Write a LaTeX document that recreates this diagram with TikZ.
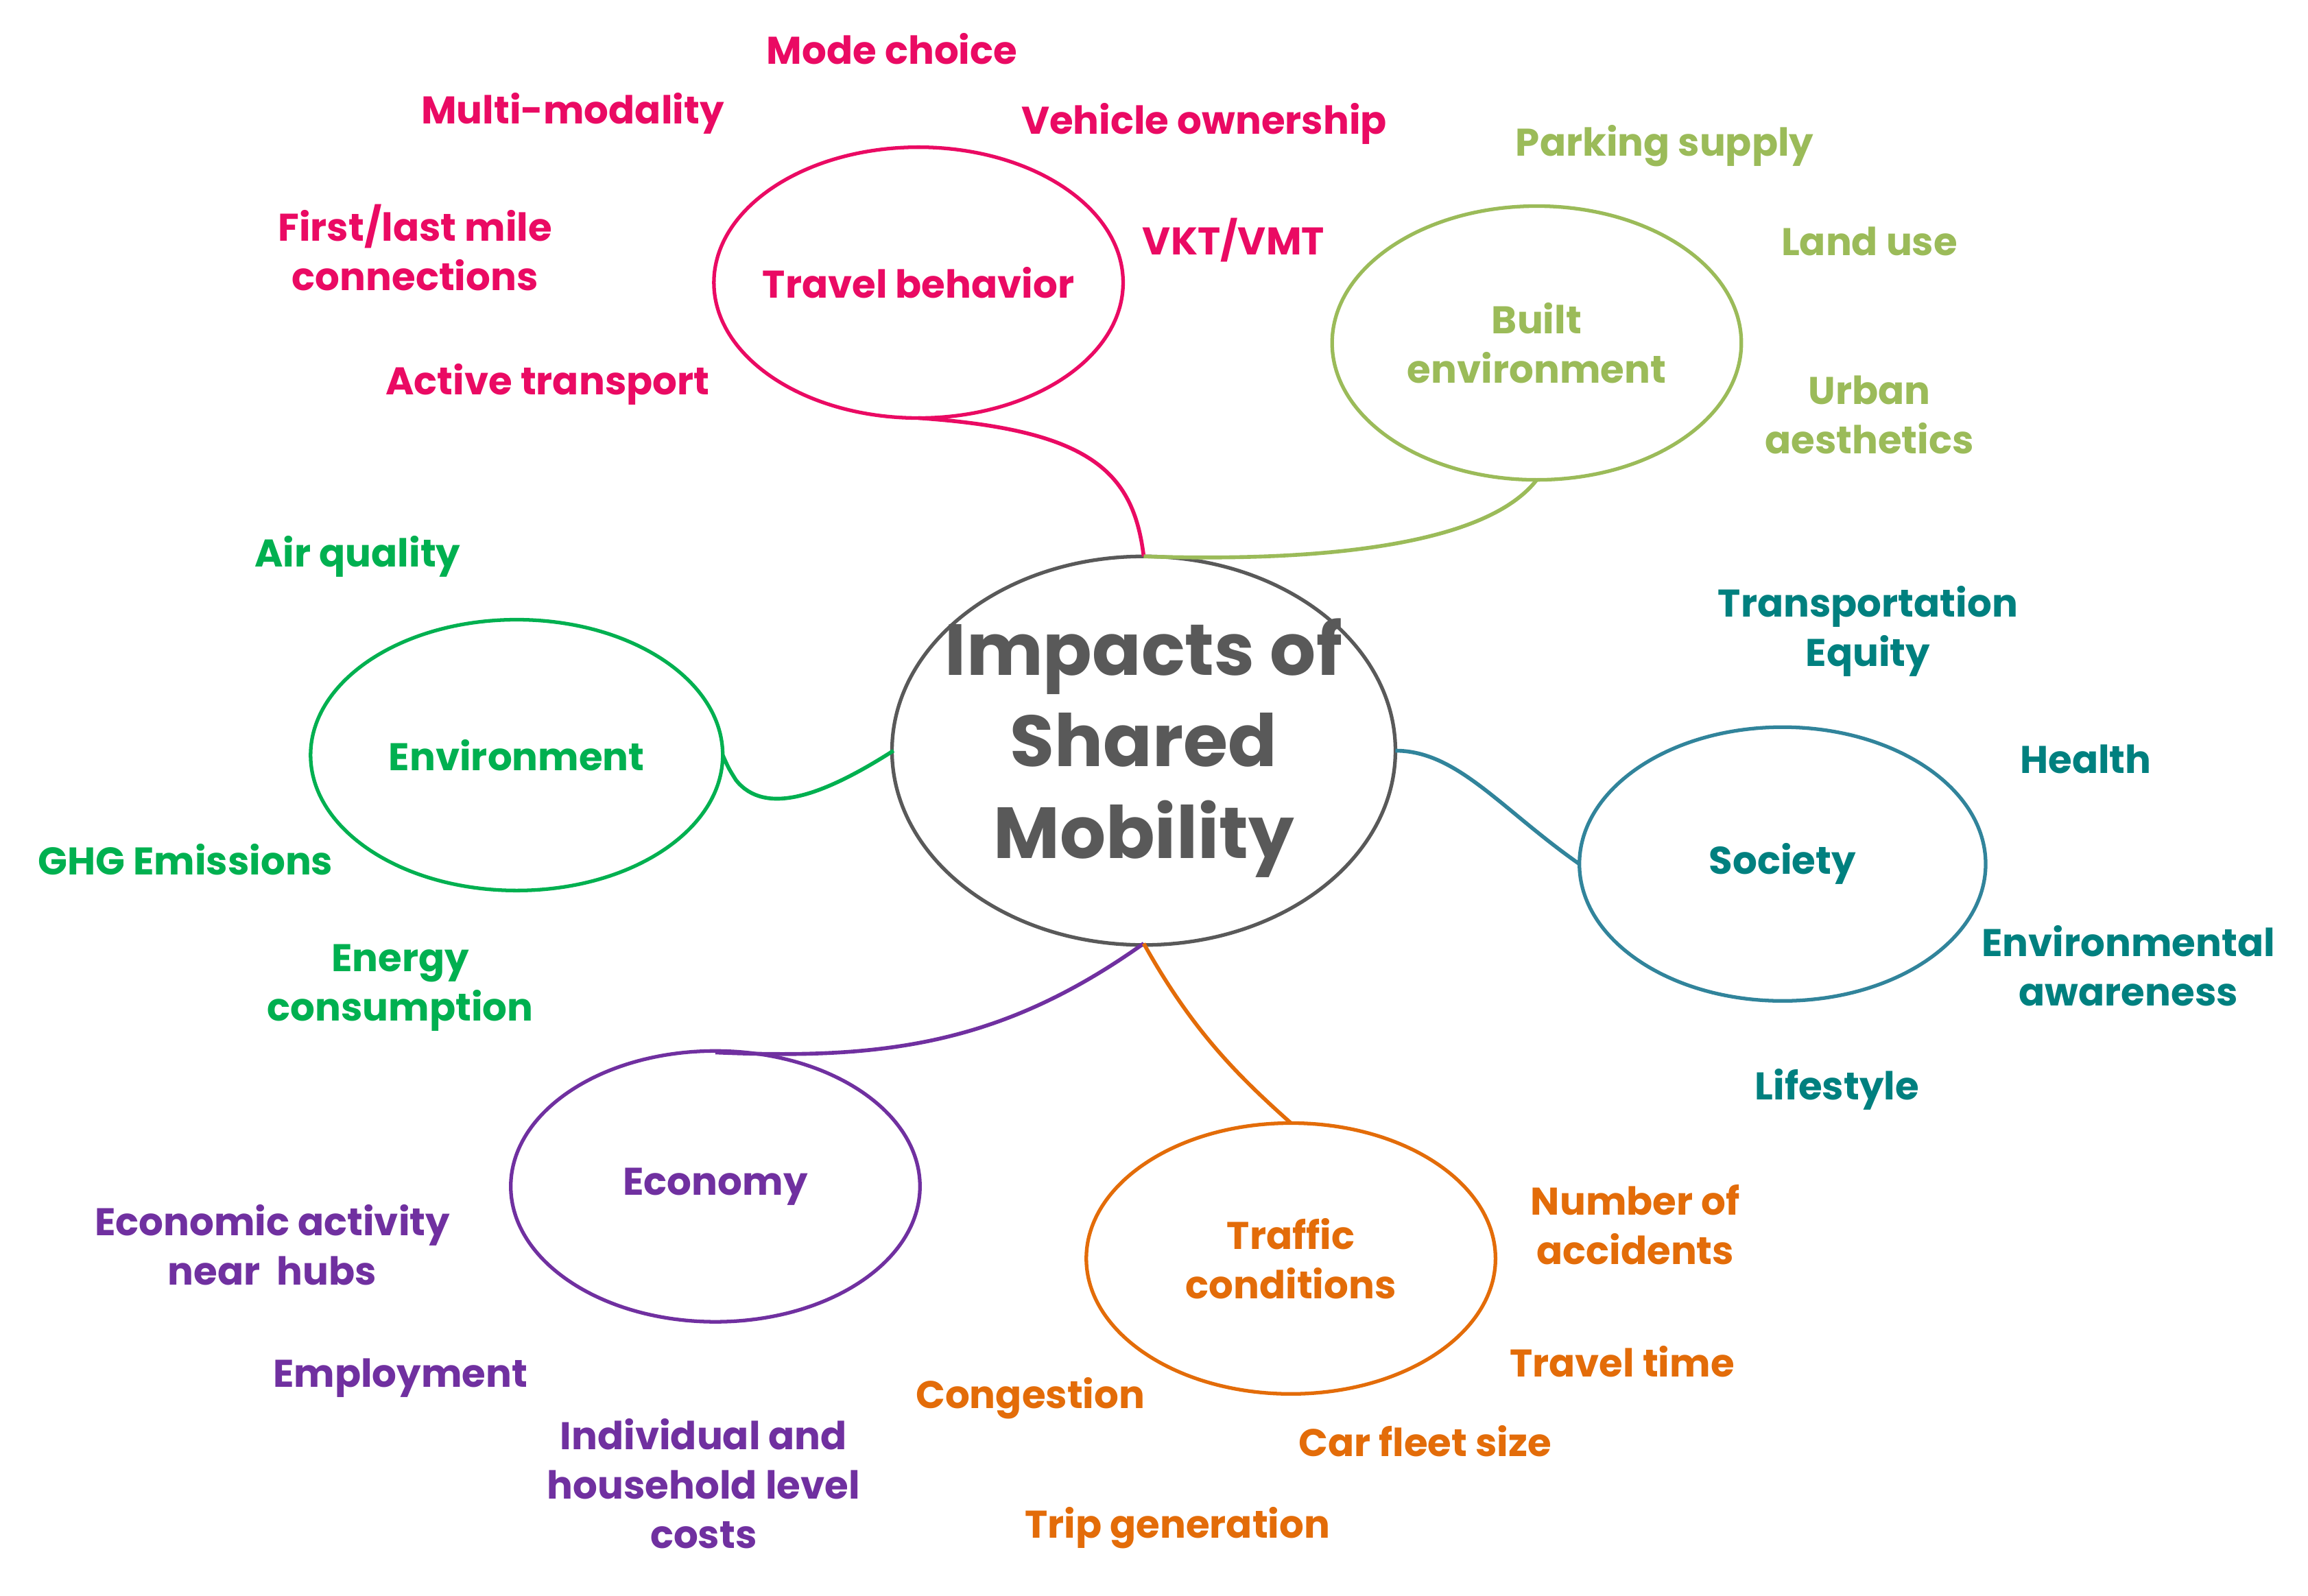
\documentclass[tikz,border=0pt]{standalone}
\usepackage{fontspec}
\setmainfont{Poppins}
\definecolor{cpink}{HTML}{EA0A63}
\definecolor{colive}{HTML}{9BBB59}
\definecolor{cteal}{HTML}{00807F}
\definecolor{csoc}{HTML}{31849B}
\definecolor{cgreen}{HTML}{00B050}
\definecolor{cpurple}{HTML}{7030A0}
\definecolor{corange}{HTML}{E36C09}
\definecolor{cgray}{HTML}{595959}
\begin{document}
\begin{tikzpicture}[x=0.02146cm,y=-0.02146cm,
  lab/.style={font=\fontsize{16}{20.5}\selectfont\bfseries,align=center,inner sep=0pt},
  ell/.style={draw,ellipse,line width=1.5pt},
  conn/.style={line width=1.6pt}]
\useasboundingbox (0,0) rectangle (1568,1084);
% ellipses as paths
\draw[cpink,line width=1.5pt] (624,192) ellipse [x radius=139,y radius=92];
\draw[colive,line width=1.5pt] (1044,233) ellipse [x radius=139,y radius=93];
\draw[cgray,line width=1.5pt] (777,510) ellipse [x radius=171,y radius=132];
\draw[cgreen,line width=1.5pt] (351,513) ellipse [x radius=140,y radius=92];
\draw[csoc,line width=1.5pt] (1211,587) ellipse [x radius=138,y radius=93];
\draw[cpurple,line width=1.5pt] (486,806) ellipse [x radius=139,y radius=92];
\draw[corange,line width=1.5pt] (877,855) ellipse [x radius=139,y radius=92];
% named anchors
\coordinate (ct) at (777,378); \coordinate (cl) at (607,510);
\coordinate (cr) at (948,510); \coordinate (cb) at (777,641);
\coordinate (tb) at (624,284); \coordinate (bb) at (1044,326);
\coordinate (er) at (491,513); \coordinate (sl) at (1073,587);
\coordinate (et) at (486,715); \coordinate (tt) at (877,763);
\draw[conn,cpink] (ct) .. controls (770,320) and (740,292) .. (tb);
\draw[conn,colive] (ct) .. controls (900,382) and (1010,370) .. (bb);
\draw[conn,cgreen] (cl) .. controls (560,540) and (520,555) .. (500,530) .. controls (495,522) .. (er);
\draw[conn,csoc] (cr) .. controls (990,510) and (1020,550) .. (sl);
\draw[conn,cpurple] (cb) .. controls (680,710) and (600,720) .. (et);
\draw[conn,corange] (cb) .. controls (810,700) and (840,730) .. (tt);
% main nodes
\node[lab,cpink] (travel) at (624,192) {Travel behavior};
\node[lab,colive] (built) at (1044,233) {Built\\environment};
\node[font=\fontsize{30}{38}\selectfont\bfseries,align=center,inner sep=0pt,cgray] (main) at (777,508) {Impacts of\\Shared\\Mobility};
\node[lab,cgreen] (env) at (351,513) {Environment};
\node[lab,cteal] (soc) at (1211,587) {Society};
\node[lab,cpurple] (eco) at (486,806) {Economy};
\node[lab,corange] (traf) at (877,855) {Traffic\\conditions};
% labels
\node[lab,cpink] (l1) at (606,33) {Mode choice};
\node[lab,cpink] (l2) at (389,77) {Multi-modality};
\node[lab,cpink] (l3) at (818,84) {Vehicle ownership};
\node[lab,cpink] (l4) at (282,168) {First/last mile\\connections};
\node[lab,cpink] (l5) at (838,163) {VKT/VMT};
\node[lab,cpink] (l6) at (372,261) {Active transport};
\node[lab,colive] (l7) at (1131,99) {Parking supply};
\node[lab,colive] (l8) at (1270,164) {Land use};
\node[lab,colive] (l9) at (1270,282) {Urban\\aesthetics};
\node[lab,cgreen] (l10) at (243,378) {Air quality};
\node[lab,cgreen] (l11) at (126,584) {GHG Emissions};
\node[lab,cgreen] (l12) at (272,671) {Energy\\consumption};
\node[lab,cteal] (l13) at (1269,429) {Transportation\\Equity};
\node[lab,cteal] (l14) at (1417,516) {Health};
\node[lab,cteal] (l15) at (1446,656) {Environmental\\awareness};
\node[lab,cteal] (l16) at (1248,740) {Lifestyle};
\node[lab,cpurple] (l17) at (185,846) {Economic activity\\near\ \ hubs};
\node[lab,cpurple] (l18) at (272,936) {Employment};
\node[lab,cpurple] (l19) at (478,1008) {Individual and\\household level\\costs};
\node[lab,corange] (l20) at (1111,832) {Number of\\accidents};
\node[lab,corange] (l21) at (1102,925) {Travel time};
\node[lab,corange] (l22) at (700,950) {Congestion};
\node[lab,corange] (l23) at (968,979) {Car fleet size};
\node[lab,corange] (l24) at (800,1038) {Trip generation};
\end{tikzpicture}
\end{document}
